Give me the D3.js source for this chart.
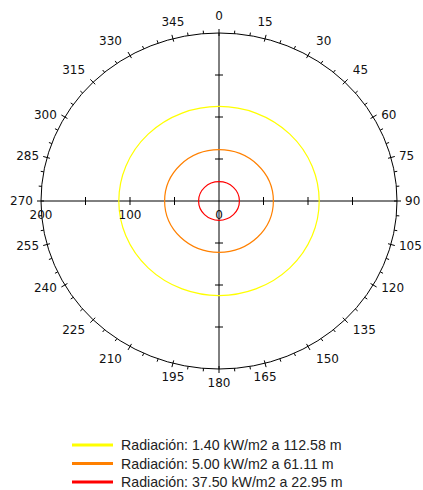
<!DOCTYPE html>
<html>
<head>
<meta charset="utf-8">
<script src="https://cdn.jsdelivr.net/npm/d3@7"></script>
<style>
  body { margin: 0; background: #fff; }
  text { font-family: "DejaVu Sans", Verdana, sans-serif; }
</style>
</head>
<body>
<div id="chart"></div>
<script>
// data
const angleLabels = [0, 15, 30, 45, 60, 75, 90, 105, 120, 135, 150, 165,
                     180, 195, 210, 225, 240, 255, 270, 285, 300, 315, 330, 345]
const radialTicks = [50, 100, 150]
const radialLabels = [200, 100, 0]
const seriesNames = [
  "Radiación: 1.40 kW/m2 a 112.58 m",
  "Radiación: 5.00 kW/m2 a 61.11 m",
  "Radiación: 37.50 kW/m2 a 22.95 m"
]
const seriesRadius = [112.58, 61.11, 22.95]
const seriesColors = ["#ffff00", "#ff8000", "#ff0000"]

const WIDTH = 423, HEIGHT = 490
const CX = 219, CY = 201
const RMAX = 200

const svg = d3.select("#chart").append("svg")
    .attr("width", WIDTH)
    .attr("height", HEIGHT)

// plot is slightly wider than tall
const x = d3.scaleLinear().domain([0, RMAX]).range([0, 178])
const y = d3.scaleLinear().domain([0, RMAX]).range([0, 168])

const g = svg.append("g").attr("transform", `translate(${CX},${CY})`)

const rad = a => a * Math.PI / 180

// outer ring
g.append("ellipse")
    .attr("rx", x(RMAX)).attr("ry", y(RMAX))
    .attr("fill", "none").attr("stroke", "#000").attr("stroke-width", 1)

// minor ticks every 5 deg (outward)
g.selectAll(".minor")
  .data(d3.range(0, 360, 5).filter(a => a % 15 !== 0))
  .enter().append("line")
    .attr("x1", a => x(RMAX) * Math.sin(rad(a)))
    .attr("y1", a => -y(RMAX) * Math.cos(rad(a)))
    .attr("x2", a => (x(RMAX) + 3) * Math.sin(rad(a)))
    .attr("y2", a => -(y(RMAX) + 3) * Math.cos(rad(a)))
    .attr("stroke", "#000")

// major ticks every 15 deg (crossing)
g.selectAll(".major")
  .data(angleLabels)
  .enter().append("line")
    .attr("x1", a => (x(RMAX) - 3) * Math.sin(rad(a)))
    .attr("y1", a => -(y(RMAX) - 3) * Math.cos(rad(a)))
    .attr("x2", a => (x(RMAX) + 4) * Math.sin(rad(a)))
    .attr("y2", a => -(y(RMAX) + 4) * Math.cos(rad(a)))
    .attr("stroke", "#000")

// axes through centre
g.append("line").attr("x1", -x(RMAX)).attr("x2", x(RMAX)).attr("y1", 0).attr("y2", 0)
    .attr("stroke", "#000")
g.append("line").attr("y1", -y(RMAX)).attr("y2", y(RMAX)).attr("x1", 0).attr("x2", 0)
    .attr("stroke", "#000")

radialTicks.forEach(v => {
  [-1, 1].forEach(sg => {
    g.append("line").attr("x1", sg * x(v)).attr("x2", sg * x(v)).attr("y1", -4).attr("y2", 4)
        .attr("stroke", "#000")
    g.append("line").attr("y1", sg * y(v)).attr("y2", sg * y(v)).attr("x1", -4).attr("x2", 4)
        .attr("stroke", "#000")
  })
})

// series rings
g.selectAll(".ring")
  .data(seriesRadius)
  .enter().append("ellipse")
    .attr("rx", d => x(d))
    .attr("ry", d => y(d))
    .attr("fill", "none")
    .attr("stroke", (d, i) => seriesColors[i])
    .attr("stroke-width", 1.2)

// radial labels
g.selectAll(".rlabel")
  .data(radialLabels)
  .enter().append("text")
    .attr("x", d => -x(d))
    .attr("y", 14)
    .attr("text-anchor", "middle")
    .attr("dominant-baseline", "central")
    .attr("font-size", 12)
    .attr("fill", "#111")
    .text(d => d)

// angle labels
g.selectAll(".alabel")
  .data(angleLabels)
  .enter().append("text")
    .each(function(a) {
      const s = Math.sin(rad(a)), c = Math.cos(rad(a))
      const ex = x(RMAX) * s, ey = -y(RMAX) * c
      const anchor = s > 0.4 ? "start" : s < -0.4 ? "end" : "middle"
      const lx = ex + (anchor === "start" ? 8 : anchor === "end" ? -8 : 0)
      const dy = Math.abs(c) > 0.6 ? (c > 0 ? -c * 17 : -c * 14) : -c * 5
      d3.select(this)
        .attr("x", lx).attr("y", ey + dy)
        .attr("text-anchor", anchor)
    })
    .attr("dominant-baseline", "central")
    .attr("font-size", 12)
    .attr("fill", "#111")
    .text(a => a)

// legend
const legend = svg.append("g")
const rows = legend.selectAll(".row")
  .data(seriesNames)
  .enter().append("g")
    .attr("transform", (d, i) => `translate(72,${445 + i * 18.5})`)

rows.append("line")
    .attr("x1", 0).attr("x2", 41)
    .attr("stroke", (d, i) => seriesColors[i])
    .attr("stroke-width", 3)

rows.append("text")
    .attr("x", 49)
    .attr("y", 5)
    .attr("font-size", 14.2)
    .attr("fill", "#222")
    .style("font-family", "'Liberation Sans', Arial, sans-serif")
    .text(d => d)
</script>
</body>
</html>
